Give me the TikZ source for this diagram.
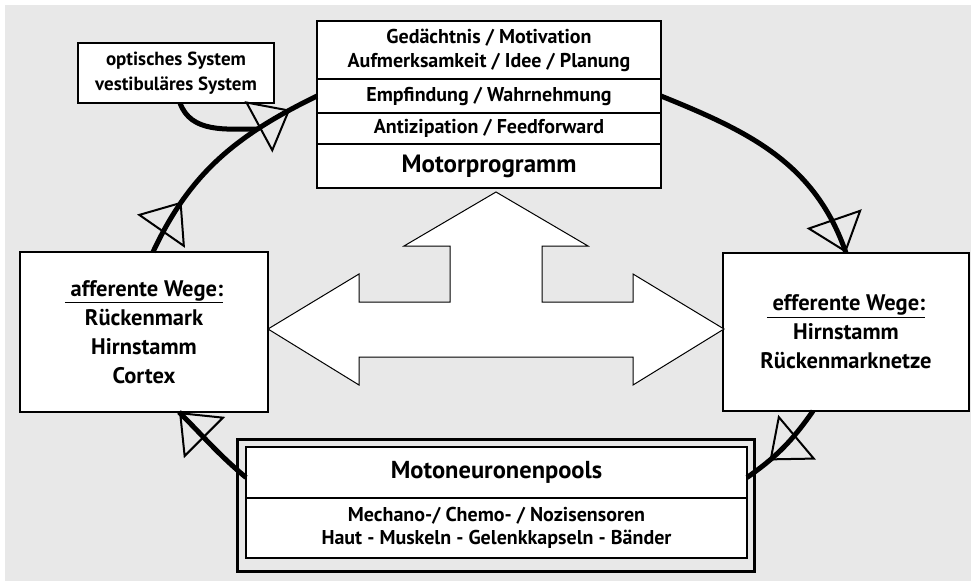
\documentclass[tikz,border=0pt]{standalone}
\usepackage{fontspec}
\setmainfont{PT Sans}
\usetikzlibrary{
  positioning,
  arrows.meta,
  decorations.markings
}
\definecolor{panel}{RGB}{232,232,232}

\begin{document}
\begin{tikzpicture}[
  x=1pt, y=-1pt,
  box/.style={
    draw,
    rectangle,
    fill=white,
    line width=1.5pt,
    outer sep=0pt,
    inner sep=0pt,
    align=center,
    font=\bfseries\fontsize{20}{24}\selectfont,
  },
  row/.style={
    box,
    minimum width=344pt,
  },
  side/.style={
    box,
    minimum width=248pt,
    minimum height=160pt,
    font=\bfseries\fontsize{22.5}{29}\selectfont,
  },
  nerve/.style={
    line width=5pt,
  },
  mid tip/.style={
    postaction={
      decorate,
      decoration={
        markings,
        mark=at position #1 with {\arrow{Triangle[open,length=36pt,width=58pt,line width=2pt]}}
      }
    }
  },
  bigarrow/.style={
    draw,
    fill=white,
    line width=1pt,
    line join=miter,
  },
  >=latex
]

% Background
\useasboundingbox (0,0) rectangle (971,581);
\fill[panel] (5,5) rectangle (971,581);

% Central part
\node[row, minimum height=58pt] (idea) at (489,50)
  {Gedächtnis / Motivation\\Aufmerksamkeit / Idee / Planung};
\node[row, minimum height=34pt, below=0pt of idea] (empf) {Empfindung / Wahrnehmung};
\node[row, minimum height=31pt, below=0pt of empf] (anti) {Antizipation / Feedforward};
\node[row, minimum height=44pt, below=0pt of anti,
  font=\bfseries\fontsize{25}{28}\selectfont] (motor) {Motorprogramm};

% Side boxes
\node[box, minimum width=196pt, minimum height=60pt,
  font=\bfseries\fontsize{19}{25}\selectfont] (optik) at (176,73)
  {optisches System\\vestibuläres System};
\node[side] (afferent) at (144,332)
  {\underline{\ afferente Wege:}\\Rückenmark\\Hirnstamm\\Cortex};
\node[side, minimum width=246pt, minimum height=158pt] (efferent) at (846,332)
  {\underline{\ efferente Wege:}\\Hirnstamm\\Rückenmarknetze};

% Motoneurons
\node[box, minimum width=501pt, minimum height=51pt,
  font=\bfseries\fontsize{24.5}{28}\selectfont] (motohead) at (496.5,472.5) {Motoneuronenpools};
\node[box, minimum width=501pt, minimum height=60pt, below=0pt of motohead,
  font=\bfseries\fontsize{20}{23}\selectfont] (motosens)
  {Mechano-/ Chemo- / Nozisensoren\\Haut - Muskeln - Gelenkkapseln - Bänder};
\draw[line width=3pt] (237,439) rectangle (754,571);

% Big arrow
\draw[bigarrow] (496,192) -- (588,246) -- (542,246) -- (542,302) -- (633,302)
  -- (633,274) -- (724,329) -- (633,385) -- (633,357) -- (359,357) -- (359,385)
  -- (268,329) -- (359,274) -- (359,302) -- (450,302) -- (450,246) -- (404,246) -- cycle;

% Loops
\coordinate (join) at (258,129);
\draw[nerve, mid tip=0.25, mid tip=0.87] ([xshift=9pt]afferent.north) to[out=65,in=206] (empf.west);
\draw[nerve] ([xshift=4pt]optik.south) to[out=-70,in=180] (join);
\draw[nerve, mid tip=0.999] (empf.east) to[out=-22,in=109] (efferent.north);
\draw[nerve, mid tip=0.7] ([xshift=-33pt]efferent.south) to[out=-125,in=35] ([yshift=-5pt]motohead.east);
\draw[nerve, mid tip=0.999] ([yshift=-5pt]motohead.west) to[out=140,in=-45] ([xshift=35pt]afferent.south);

\end{tikzpicture}
\end{document}
